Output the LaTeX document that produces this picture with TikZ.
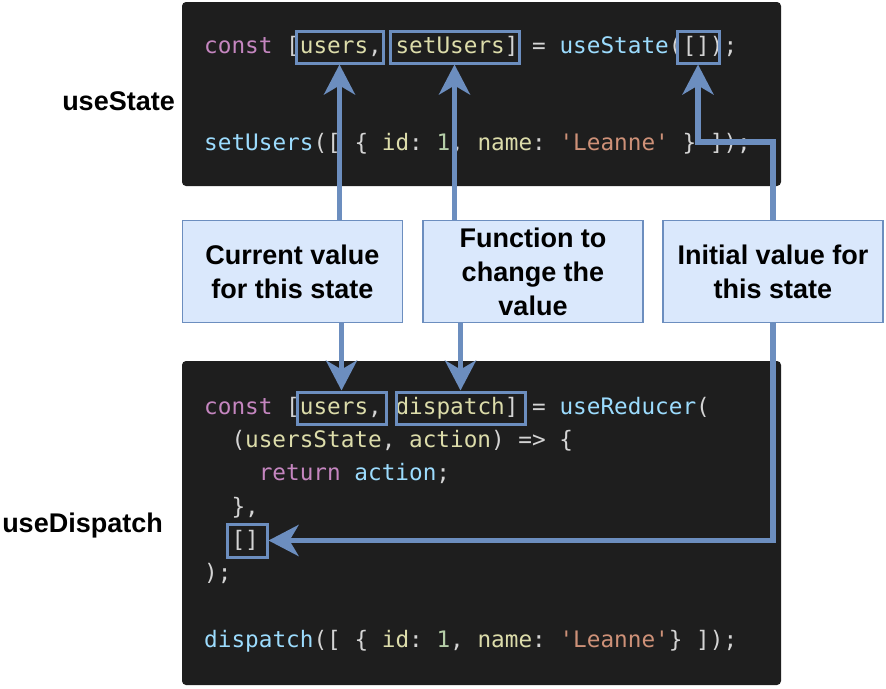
\documentclass[tikz,border=0pt]{standalone}
\usepackage{fontspec}
\setsansfont{Liberation Sans}
\setmonofont{DejaVu Sans Mono}
\usetikzlibrary{arrows.meta}

\definecolor{hookblue}{HTML}{6C8EBF}
\definecolor{notefill}{HTML}{DAE8FC}
\definecolor{panelbg}{HTML}{1E1E1E}
\definecolor{codepunct}{HTML}{D4D4D4}
\definecolor{codekw}{HTML}{C586C0}
\definecolor{codevar}{HTML}{DCDCAA}
\definecolor{codefun}{HTML}{9CDCFE}
\definecolor{codenum}{HTML}{B5CEA8}
\definecolor{codestr}{HTML}{CE9178}

\newcommand{\ckw}[1]{\textcolor{codekw}{#1}}
\newcommand{\cvar}[1]{\textcolor{codevar}{#1}}
\newcommand{\cfun}[1]{\textcolor{codefun}{#1}}
\newcommand{\cnum}[1]{\textcolor{codenum}{#1}}
\newcommand{\cstr}[1]{\textcolor{codestr}{#1}}

\begin{document}
\begin{tikzpicture}[x=1pt, y=-1pt,
  panel/.style={fill=panelbg, rounded corners=4pt},
  code/.style={anchor=base west, inner sep=0pt, text=codepunct,
    font=\ttfamily\fontsize{22.7}{33}\selectfont},
  hl/.style={draw=hookblue, line width=3pt, inner sep=0pt},
  note/.style={draw=hookblue, line width=1.5pt, fill=notefill, inner sep=0pt,
    minimum width=220pt, minimum height=102pt, align=center,
    font=\sffamily\bfseries\fontsize{27}{34}\selectfont},
  lbl/.style={anchor=base east, inner sep=0pt,
    font=\sffamily\bfseries\fontsize{27}{34}\selectfont},
  arr/.style={draw=hookblue, line width=5.5pt,
    -{Stealth[length=30pt, width=31pt, inset=9pt]}}]
  \useasboundingbox (0,0) rectangle (886,688);

  % code panels
  \fill[panel] (182,2) rectangle (781,186);
  \fill[panel] (182,361) rectangle (781,685);

  \node[code] (s1) at (204,53)
    {\ckw{const} [\cvar{users}, \cvar{setUsers}] = \cfun{useState}([]);};
  \node[code] (s2) at (204,150)
    {\cfun{setUsers}([ \{ \cvar{id}: \cnum{1}, \cvar{name}: \cstr{'Leanne'} \} ]);};

  \node[code] (r1) at (204,414)
    {\ckw{const} [\cvar{users}, \cvar{dispatch}] = \cfun{useReducer}(};
  \node[code] (r2) at (231.3,447.5)
    {(\cvar{usersState}, \cvar{action}) => \{};
  \node[code] (r3) at (258.6,480.8) {\ckw{return} \cfun{action};};
  \node[code] (r4) at (231.3,514) {\},};
  \node[code] (r5) at (231.3,547.3) {[]};
  \node[code] (r6) at (204,580.6) {);};
  \node[code] (r7) at (204,647)
    {\cfun{dispatch}([ \{ \cvar{id}: \cnum{1}, \cvar{name}: \cstr{'Leanne'}\} ]);};

  % highlighted parts
  \node[hl, minimum width=87pt, minimum height=32pt] (tu) at (339.5,47) {};
  \node[hl, minimum width=129pt, minimum height=32pt] (ts) at (454.5,47) {};
  \node[hl, minimum width=42pt, minimum height=32pt] (te) at (698,47) {};
  \node[hl, minimum width=89pt, minimum height=32pt] (bu) at (341.5,408) {};
  \node[hl, minimum width=129pt, minimum height=32pt] (bd) at (460.5,408) {};
  \node[hl, minimum width=40pt, minimum height=33pt] (be) at (247,540.5) {};

  % hook names
  \node[lbl] (lstate) at (175,110) {useState};
  \node[lbl] (ldispatch) at (163,532) {useDispatch};

  % explanations
  \node[note] (cur) at (292.5,271.5) {Current value\\for this state};
  \node[note] (fun) at (533,271.5) {Function to\\change the\\value};
  \node[note] (ini) at (773,271.5) {Initial value for\\this state};

  \coordinate (bend) at (698,142);

  \draw[arr] (tu.south |- cur.north) -- (tu.south);
  \draw[arr] (ts.south |- fun.north) -- (ts.south);
  \draw[arr] (ini.north) |- (bend) -- (te.south);
  \draw[arr] (bu.north |- cur.south) -- (bu.north);
  \draw[arr] (bd.north |- fun.south) -- (bd.north);
  \draw[arr] (ini.south) |- (be.east);
\end{tikzpicture}
\end{document}
